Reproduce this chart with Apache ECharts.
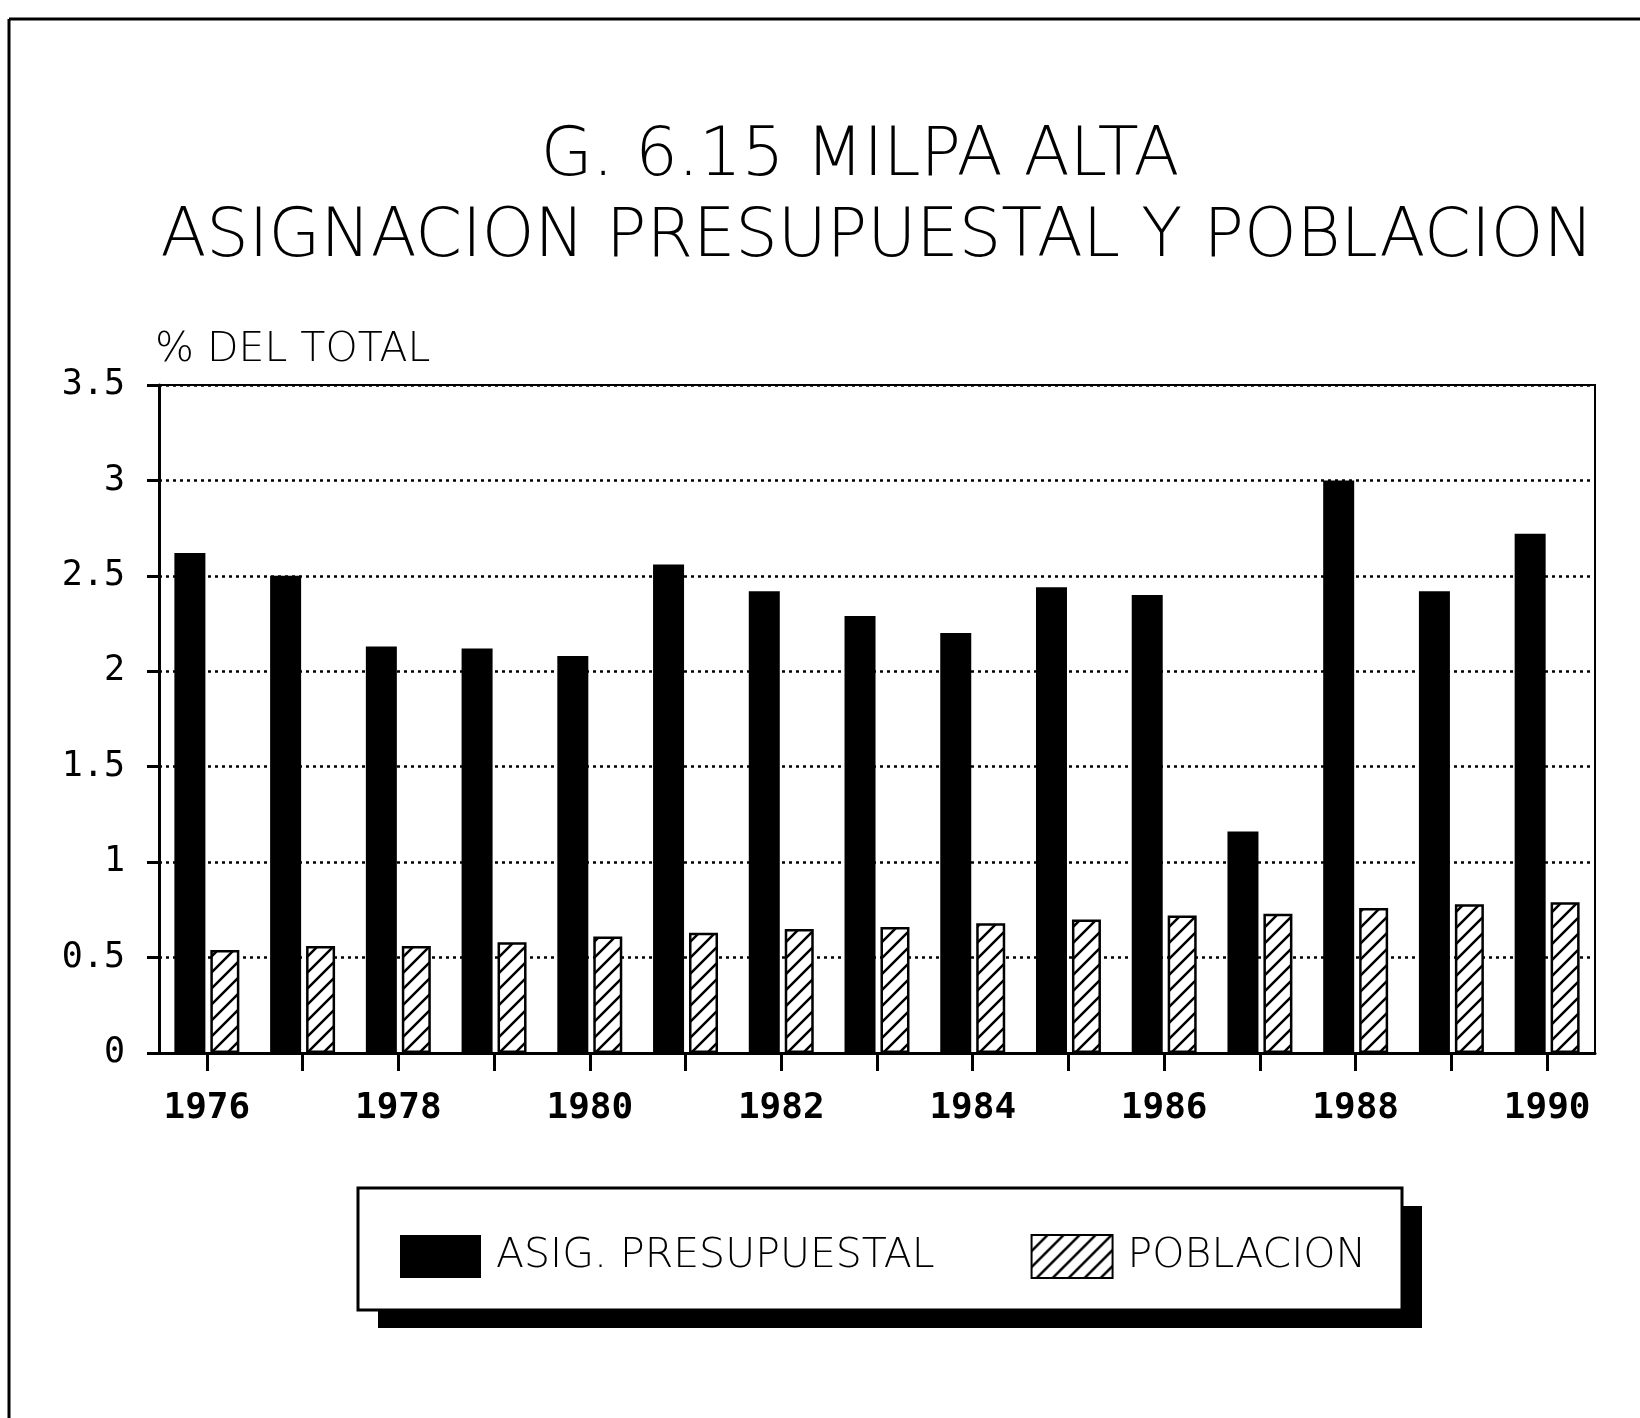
<!DOCTYPE html>
<html>
<head>
<meta charset="utf-8">
<script src="https://cdn.jsdelivr.net/npm/echarts@6/dist/echarts.min.js"></script>
<style>
  html, body { margin: 0; padding: 0; background: #fff; }
  #mychart { width: 1640px; height: 1418px; }
</style>
</head>
<body>
<div id="mychart"></div>
<script>
// datos
var years = ['1976', '1977', '1978', '1979', '1980', '1981', '1982', '1983',
    '1984', '1985', '1986', '1987', '1988', '1989', '1990']
var asignacion = [2.62, 2.50, 2.13, 2.12, 2.08, 2.56, 2.42, 2.29, 2.20, 2.44, 2.40, 1.16, 3.00, 2.42, 2.72]
var poblacion = [0.54, 0.56, 0.56, 0.58, 0.61, 0.63, 0.65, 0.66, 0.68, 0.70, 0.72, 0.73, 0.76, 0.78, 0.79]

var titleFont = '"DejaVu Sans", sans-serif'
var numFont = '"DejaVu Sans Mono", monospace'

// rayado diagonal para poblacion
function hatch() {
    var c = document.createElement('canvas')
    c.width = 16
    c.height = 16
    var ctx = c.getContext('2d')
    ctx.fillStyle = '#fff'
    ctx.fillRect(0, 0, 16, 16)
    ctx.strokeStyle = '#000'
    ctx.lineWidth = 2.5
    ctx.beginPath()
    ctx.moveTo(-4, 20); ctx.lineTo(20, -4)
    ctx.moveTo(-12, 12); ctx.lineTo(12, -12)
    ctx.moveTo(4, 28); ctx.lineTo(28, 4)
    ctx.stroke()
    return c
}

var myChart = echarts.init(document.getElementById('mychart'))

var titleStyle = {
    fontFamily: titleFont,
    fontWeight: 200,
    fontSize: 67,
    lineHeight: 80,
    color: '#000'
}

var option = {
    backgroundColor: '#fff',
    animation: false,
    title: [{
            text: 'G. 6.15 MILPA ALTA',
            left: 860,
            top: 118,
            textAlign: 'center',
            padding: 0,
            textStyle: titleStyle
        },
        {
            text: 'ASIGNACION PRESUPUESTAL Y POBLACION',
            left: 877,
            top: 199,
            textAlign: 'center',
            padding: 0,
            textStyle: titleStyle
        }
    ],
    grid: {
        left: 159,
        right: 45,
        top: 385,
        bottom: 365,
        show: true,
        borderColor: '#000',
        borderWidth: 2,
        backgroundColor: 'transparent'
    },
    xAxis: {
        type: 'category',
        data: years,
        axisLine: { lineStyle: { color: '#000', width: 3 } },
        axisTick: { show: true, interval: 0, alignWithLabel: true, length: 18, lineStyle: { color: '#000', width: 3 } },
        axisLabel: {
            interval: 1,
            margin: 38,
            color: '#000',
            fontFamily: numFont,
            fontWeight: 'bold',
            fontSize: 36
        }
    },
    yAxis: {
        type: 'value',
        min: 0,
        max: 3.5,
        interval: 0.5,
        name: '% DEL TOTAL',
        nameLocation: 'end',
        nameGap: 14,
        nameTextStyle: {
            align: 'left',
            padding: [0, 0, 0, -4],
            color: '#000',
            fontFamily: titleFont,
            fontSize: 41,
            fontWeight: 200
        },
        axisLine: { show: true, lineStyle: { color: '#000', width: 3 } },
        axisTick: { show: true, length: 12, lineStyle: { color: '#000', width: 3 } },
        axisLabel: {
            margin: 34,
            color: '#000',
            fontFamily: numFont,
            fontSize: 35,
            formatter: function (v) { return String(v) }
        },
        splitLine: { show: true, lineStyle: { color: '#000', type: [3, 4], width: 2.5 } }
    },
    legend: {
        left: 395,
        top: 1229,
        itemWidth: 81,
        itemHeight: 43,
        itemGap: 96,
        icon: 'rect',
        textStyle: {
            fontFamily: titleFont,
            fontWeight: 200,
            fontSize: 41,
            color: '#000',
            padding: [0, 0, 0, 10]
        },
        data: ['ASIG. PRESUPUESTAL', 'POBLACION'],
        z: 10
    },
    graphic: [
        // marco exterior
        { type: 'line', shape: { x1: 9, y1: 19, x2: 9, y2: 1418 }, style: { stroke: '#000', lineWidth: 3 } },
        { type: 'line', shape: { x1: 9, y1: 19, x2: 1640, y2: 19 }, style: { stroke: '#000', lineWidth: 3 } },
        // caja de la leyenda con sombra
        { type: 'rect', shape: { x: 378, y: 1206, width: 1044, height: 122 }, style: { fill: '#000' }, z: 1 },
        { type: 'rect', shape: { x: 358, y: 1188, width: 1044, height: 122 }, style: { fill: '#fff', stroke: '#000', lineWidth: 3 }, z: 2 }
    ],
    series: [{
            name: 'ASIG. PRESUPUESTAL',
            type: 'bar',
            data: asignacion,
            barWidth: 31,
            barGap: '16%',
            itemStyle: { color: '#000' }
        },
        {
            name: 'POBLACION',
            type: 'bar',
            data: poblacion,
            barWidth: 29,
            itemStyle: {
                color: { image: hatch(), repeat: 'repeat' },
                borderColor: '#000',
                borderWidth: 2.5
            }
        }
    ]
}

myChart.setOption(option)
</script>
</body>
</html>
